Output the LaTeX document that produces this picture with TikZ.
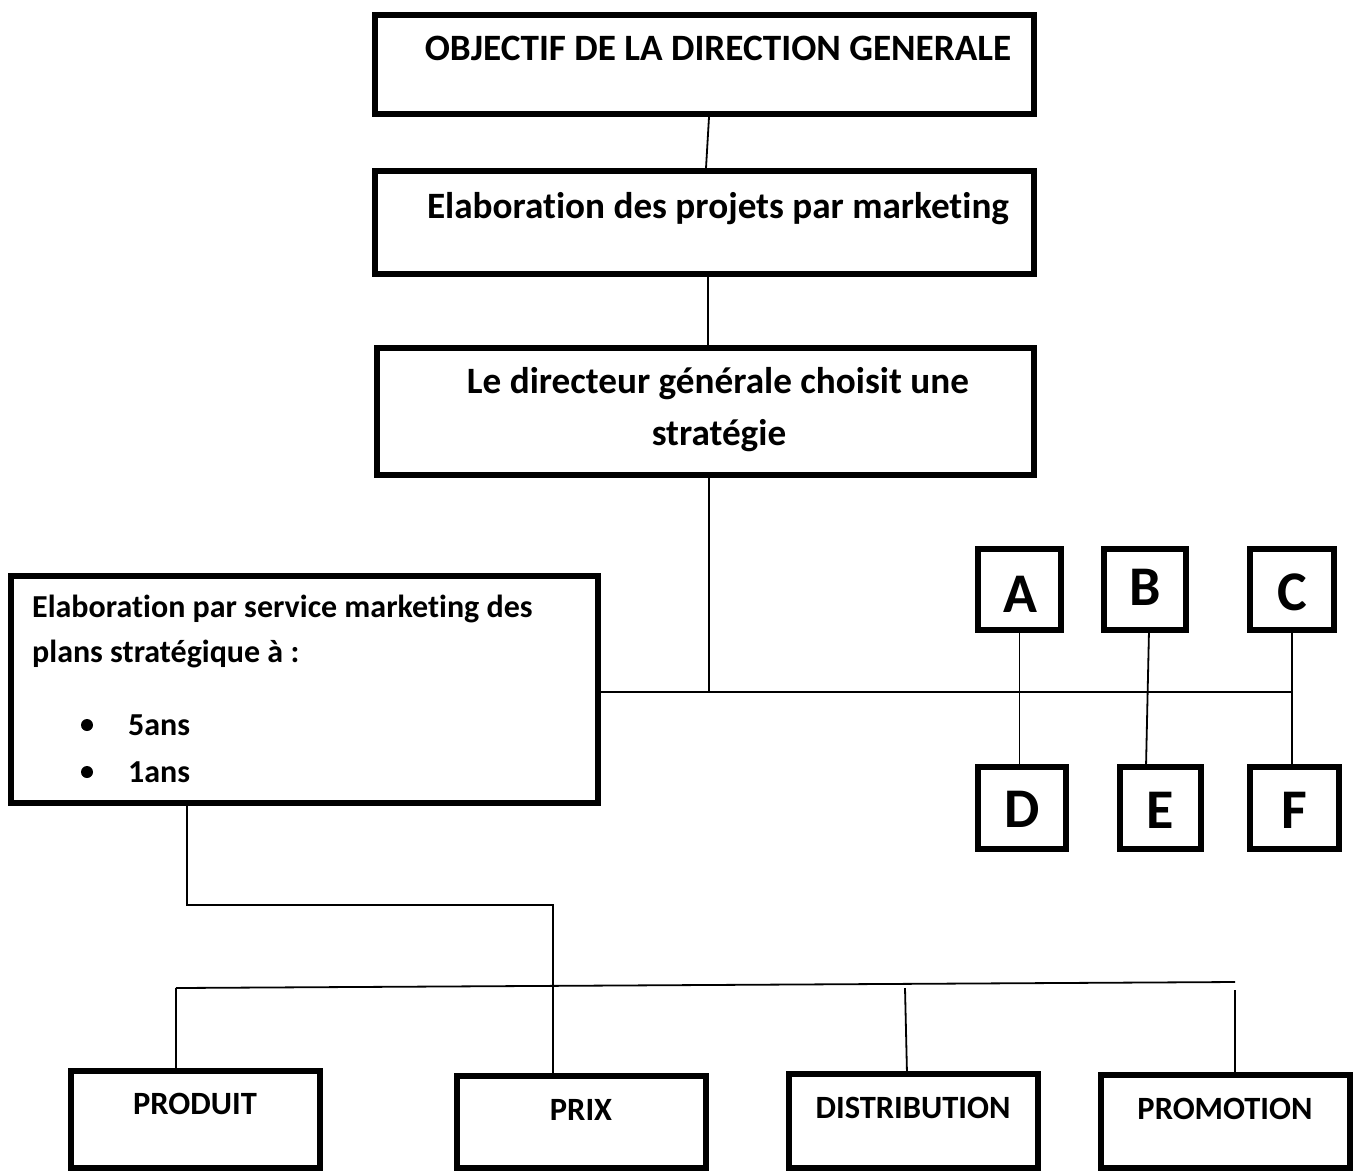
\documentclass[tikz,border=0pt]{standalone}
\usepackage{fontspec}
\setmainfont[Ligatures=NoCommon]{Carlito}
\begin{document}
\begin{tikzpicture}[x=1pt,y=-1pt,
  box/.style={draw=black, line width=5.5pt, rectangle, inner sep=0pt, fill=white},
  conn/.style={draw=black, line width=1.8pt},
  bigtxt/.style={font=\fontsize{37.2}{44}\selectfont\bfseries, inner sep=0pt, anchor=base},
  midtxt/.style={font=\fontsize{32}{38}\selectfont\bfseries, inner sep=0pt, anchor=base west},
  lettxt/.style={font=\fontsize{56}{62}\selectfont\bfseries, inner sep=0pt, anchor=base},
  lowtxt/.style={font=\fontsize{32.5}{38}\selectfont\bfseries, inner sep=0pt, anchor=base}]
\useasboundingbox[fill=white] (0,0) rectangle (1356,1173);

% top boxes
\node[box, minimum width=659pt, minimum height=99pt] (b1) at (704.5,64.5) {};
\node[box, minimum width=659pt, minimum height=103pt] (b2) at (704.5,222.5) {};
\node[box, minimum width=657pt, minimum height=127pt] (b3) at (705.5,411.5) {};
\node[bigtxt] (t1) at (718,60) {OBJECTIF DE LA DIRECTION GENERALE};
\node[bigtxt] (t2) at (718,218) {Elaboration des projets par marketing};
\node[bigtxt] (t3a) at (718,393) {Le directeur générale choisit une};
\node[bigtxt] (t3b) at (719,445) {stratégie};

% left box
\node[box, minimum width=587pt, minimum height=227pt] (lb) at (304.5,689.5) {};
\node[midtxt] (l1) at (32,617) {Elaboration par service marketing des};
\node[midtxt] (l2) at (32,662) {plans stratégique à :};
\node[midtxt] (l3) at (128,735) {5ans};
\node[midtxt] (l4) at (128,782) {1ans};
\fill[black] (87,725) circle (6pt);
\fill[black] (87,772) circle (6pt);

% letter boxes
\node[box, minimum width=83pt, minimum height=81pt] (A) at (1019.5,589.5) {};
\node[box, minimum width=82pt, minimum height=81pt] (B) at (1145,589.5) {};
\node[box, minimum width=84pt, minimum height=81pt] (C) at (1292,589.5) {};
\node[box, minimum width=88pt, minimum height=82pt] (D) at (1022,808) {};
\node[box, minimum width=81pt, minimum height=82pt] (E) at (1160.5,808) {};
\node[box, minimum width=89pt, minimum height=82pt] (F) at (1294.5,808) {};
\node[lettxt] (tA) at (1020,612) {A};
\node[lettxt] (tB) at (1145,605) {B};
\node[lettxt] (tC) at (1292,610) {C};
\node[lettxt] (tD) at (1022,827) {D};
\node[lettxt] (tE) at (1160,828) {E};
\node[lettxt] (tF) at (1294,828) {F};

% bottom boxes
\node[box, minimum width=249pt, minimum height=97pt] (p1) at (195.5,1119.5) {};
\node[box, minimum width=249pt, minimum height=92pt] (p2) at (581.5,1122) {};
\node[box, minimum width=249pt, minimum height=94pt] (p3) at (913.5,1121) {};
\node[box, minimum width=249pt, minimum height=93pt] (p4) at (1225.5,1121.5) {};
\node[lowtxt] (tp1) at (195,1114) {PRODUIT};
\node[lowtxt] (tp2) at (581,1120) {PRIX};
\node[lowtxt] (tp3) at (913,1118) {DISTRIBUTION};
\node[lowtxt] (tp4) at (1225,1119) {PROMOTION};

% coordinates
\coordinate (j1) at (709,692);
\coordinate (hl) at (lb.east |- j1);
\coordinate (hr) at (1292,692);
\coordinate (k1) at (187,905);
\coordinate (k2) at (553,905);
\coordinate (m1) at (176,988);
\coordinate (m2) at (1235,982);
\coordinate (m3) at (905,988);
\coordinate (m4) at (1235,990);

% connectors
\draw[conn] (709,117) -- (706,168);
\draw[conn] (b2.south -| 708,0) -- (b3.north -| 708,0);
\draw[conn] (b3.south -| j1) -- (j1);
\draw[conn] (hl) -- (hr);
\draw[conn] (A.south) -- (D.north -| A.south);
\draw[conn] (1149,630) -- (1146,767);
\draw[conn] (C.south) -- (C.south |- F.north);
\draw[conn] (lb.south -| k1) -- (k1) -- (k2) -- (k2 |- p2.north);
\draw[conn] (m1) -- (m2);
\draw[conn] (m1) -- (m1 |- p1.north);
\draw[conn] (m3) -- (907,1074);
\draw[conn] (m4) -- (m4 |- p4.north);
\end{tikzpicture}
\end{document}
